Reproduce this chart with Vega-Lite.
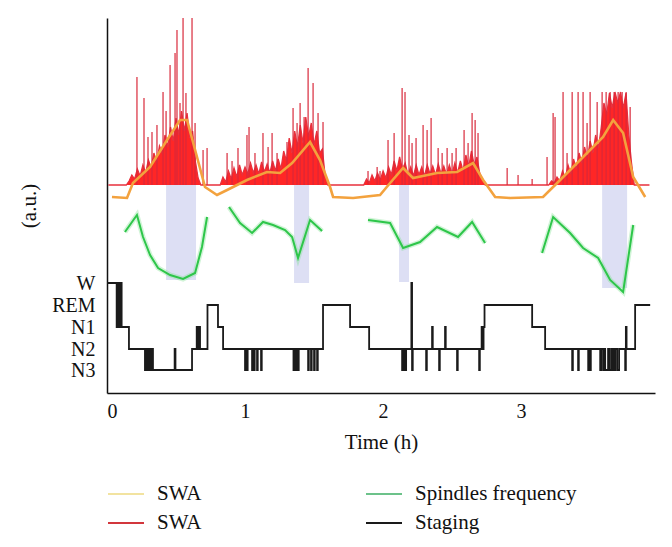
{
  "$schema": "https://vega.github.io/schema/vega-lite/v6.json",
  "description": "SWA, spindle frequency and sleep staging over time",
  "width": 548,
  "height": 375,
  "autosize": {"type": "none"},
  "padding": {"left": 107, "top": 18, "right": 17, "bottom": 154},
  "config": {
    "font": "'Liberation Serif', 'DejaVu Serif', serif",
    "view": {"stroke": null},
    "axis": {
      "labelFont": "'Liberation Serif', 'DejaVu Serif', serif", "titleFont": "'Liberation Serif', 'DejaVu Serif', serif",
      "labelFontSize": 20, "titleFontSize": 21, "titleFontWeight": "normal",
      "labelColor": "#111", "titleColor": "#111", "domainColor": "#111",
      "domainWidth": 1.5, "grid": false, "ticks": false
    },
    "legend": {
      "labelFont": "'Liberation Serif', 'DejaVu Serif', serif", "labelFontSize": 21, "labelColor": "#111"
    }
  },
  "datasets": {
    "bands": [
      {"t": 0.428, "t2": 0.645, "v": 113, "v2": 208},
      {"t": 1.355, "t2": 1.464, "v": 110, "v2": 208},
      {"t": 2.116, "t2": 2.188, "v": 111, "v2": 208},
      {"t": 3.587, "t2": 3.768, "v": 105, "v2": 208}
    ],
    "red": [
      {"t": 0.01, "v": 208}, {"t": 0.14, "v": 208}, {"t": 0.16, "v": 212}, {"t": 0.18, "v": 218}, {"t": 0.20, "v": 214},
      {"t": 0.22, "v": 224}, {"t": 0.24, "v": 217}, {"t": 0.26, "v": 228}, {"t": 0.28, "v": 220}, {"t": 0.30, "v": 233},
      {"t": 0.32, "v": 225}, {"t": 0.34, "v": 240}, {"t": 0.36, "v": 230}, {"t": 0.38, "v": 247}, {"t": 0.40, "v": 240},
      {"t": 0.42, "v": 258}, {"t": 0.44, "v": 246}, {"t": 0.46, "v": 266}, {"t": 0.48, "v": 252}, {"t": 0.50, "v": 275},
      {"t": 0.52, "v": 258}, {"t": 0.54, "v": 282}, {"t": 0.56, "v": 262}, {"t": 0.58, "v": 280}, {"t": 0.60, "v": 255},
      {"t": 0.62, "v": 262}, {"t": 0.64, "v": 232}, {"t": 0.66, "v": 215}, {"t": 0.68, "v": 208},
      {"t": 0.82, "v": 208}, {"t": 0.84, "v": 216}, {"t": 0.86, "v": 211}, {"t": 0.88, "v": 222}, {"t": 0.90, "v": 214},
      {"t": 0.92, "v": 225}, {"t": 0.94, "v": 216}, {"t": 0.96, "v": 228}, {"t": 0.98, "v": 218}, {"t": 1.00, "v": 226},
      {"t": 1.02, "v": 219}, {"t": 1.04, "v": 230}, {"t": 1.06, "v": 220}, {"t": 1.08, "v": 228}, {"t": 1.10, "v": 219},
      {"t": 1.12, "v": 231}, {"t": 1.14, "v": 221}, {"t": 1.16, "v": 229}, {"t": 1.18, "v": 220}, {"t": 1.20, "v": 232},
      {"t": 1.22, "v": 222}, {"t": 1.24, "v": 234}, {"t": 1.26, "v": 224}, {"t": 1.28, "v": 242}, {"t": 1.30, "v": 232},
      {"t": 1.32, "v": 255}, {"t": 1.34, "v": 240}, {"t": 1.36, "v": 262}, {"t": 1.38, "v": 246}, {"t": 1.40, "v": 268},
      {"t": 1.42, "v": 250}, {"t": 1.44, "v": 276}, {"t": 1.46, "v": 256}, {"t": 1.48, "v": 270}, {"t": 1.50, "v": 248},
      {"t": 1.52, "v": 262}, {"t": 1.54, "v": 240}, {"t": 1.56, "v": 244}, {"t": 1.58, "v": 218}, {"t": 1.60, "v": 208},
      {"t": 1.86, "v": 208}, {"t": 1.88, "v": 214}, {"t": 1.90, "v": 210}, {"t": 1.92, "v": 218}, {"t": 1.94, "v": 212},
      {"t": 1.96, "v": 220}, {"t": 1.98, "v": 213}, {"t": 2.00, "v": 222}, {"t": 2.02, "v": 215}, {"t": 2.04, "v": 226},
      {"t": 2.06, "v": 218}, {"t": 2.08, "v": 232}, {"t": 2.10, "v": 222}, {"t": 2.12, "v": 236}, {"t": 2.14, "v": 224},
      {"t": 2.16, "v": 230}, {"t": 2.18, "v": 218}, {"t": 2.20, "v": 226}, {"t": 2.22, "v": 217}, {"t": 2.24, "v": 228},
      {"t": 2.26, "v": 218}, {"t": 2.28, "v": 226}, {"t": 2.30, "v": 217}, {"t": 2.32, "v": 228}, {"t": 2.34, "v": 219},
      {"t": 2.36, "v": 227}, {"t": 2.38, "v": 218}, {"t": 2.40, "v": 229}, {"t": 2.42, "v": 219}, {"t": 2.44, "v": 227},
      {"t": 2.46, "v": 218}, {"t": 2.48, "v": 228}, {"t": 2.50, "v": 219}, {"t": 2.52, "v": 230}, {"t": 2.54, "v": 220},
      {"t": 2.56, "v": 232}, {"t": 2.58, "v": 222}, {"t": 2.60, "v": 238}, {"t": 2.62, "v": 226}, {"t": 2.64, "v": 242},
      {"t": 2.66, "v": 228}, {"t": 2.68, "v": 236}, {"t": 2.70, "v": 220}, {"t": 2.72, "v": 214}, {"t": 2.74, "v": 208},
      {"t": 3.20, "v": 208}, {"t": 3.22, "v": 212}, {"t": 3.24, "v": 210}, {"t": 3.26, "v": 216}, {"t": 3.28, "v": 212},
      {"t": 3.30, "v": 222}, {"t": 3.32, "v": 215}, {"t": 3.34, "v": 228}, {"t": 3.36, "v": 219}, {"t": 3.38, "v": 234},
      {"t": 3.40, "v": 224}, {"t": 3.42, "v": 240}, {"t": 3.44, "v": 230}, {"t": 3.46, "v": 246}, {"t": 3.48, "v": 234},
      {"t": 3.50, "v": 252}, {"t": 3.52, "v": 240}, {"t": 3.54, "v": 258}, {"t": 3.56, "v": 245}, {"t": 3.58, "v": 265},
      {"t": 3.60, "v": 290}, {"t": 3.62, "v": 278}, {"t": 3.64, "v": 300}, {"t": 3.66, "v": 285}, {"t": 3.68, "v": 301},
      {"t": 3.70, "v": 290}, {"t": 3.72, "v": 301}, {"t": 3.74, "v": 285}, {"t": 3.76, "v": 300}, {"t": 3.78, "v": 258},
      {"t": 3.80, "v": 230}, {"t": 3.82, "v": 208}, {"t": 3.93, "v": 208}
    ],
    "spikes": [
      {"t": 0.217, "v": 316}, {"t": 0.268, "v": 295}, {"t": 0.297, "v": 256}, {"t": 0.326, "v": 261}, {"t": 0.362, "v": 268},
      {"t": 0.406, "v": 301}, {"t": 0.428, "v": 282}, {"t": 0.457, "v": 328}, {"t": 0.493, "v": 340}, {"t": 0.507, "v": 363},
      {"t": 0.529, "v": 290}, {"t": 0.551, "v": 375}, {"t": 0.572, "v": 300}, {"t": 0.616, "v": 375}, {"t": 0.638, "v": 270},
      {"t": 0.696, "v": 243}, {"t": 0.725, "v": 245},
      {"t": 0.870, "v": 240}, {"t": 0.906, "v": 232}, {"t": 0.949, "v": 245}, {"t": 1.014, "v": 258}, {"t": 1.029, "v": 266},
      {"t": 1.072, "v": 240}, {"t": 1.130, "v": 260}, {"t": 1.167, "v": 246}, {"t": 1.196, "v": 260}, {"t": 1.232, "v": 240},
      {"t": 1.304, "v": 251}, {"t": 1.348, "v": 285}, {"t": 1.377, "v": 270}, {"t": 1.399, "v": 290}, {"t": 1.428, "v": 276},
      {"t": 1.457, "v": 325}, {"t": 1.493, "v": 310}, {"t": 1.529, "v": 280}, {"t": 1.565, "v": 271},
      {"t": 1.891, "v": 222}, {"t": 1.957, "v": 226}, {"t": 1.978, "v": 222}, {"t": 2.036, "v": 253}, {"t": 2.080, "v": 260},
      {"t": 2.138, "v": 305}, {"t": 2.159, "v": 301}, {"t": 2.188, "v": 258}, {"t": 2.210, "v": 250}, {"t": 2.239, "v": 255},
      {"t": 2.290, "v": 268}, {"t": 2.319, "v": 263}, {"t": 2.348, "v": 275}, {"t": 2.399, "v": 245}, {"t": 2.428, "v": 240},
      {"t": 2.464, "v": 245}, {"t": 2.500, "v": 240}, {"t": 2.529, "v": 245}, {"t": 2.587, "v": 263}, {"t": 2.616, "v": 250},
      {"t": 2.645, "v": 280}, {"t": 2.667, "v": 273}, {"t": 2.688, "v": 260},
      {"t": 2.899, "v": 225}, {"t": 2.978, "v": 218}, {"t": 3.080, "v": 214}, {"t": 3.188, "v": 236},
      {"t": 3.232, "v": 280}, {"t": 3.246, "v": 276}, {"t": 3.304, "v": 301}, {"t": 3.333, "v": 240}, {"t": 3.370, "v": 301},
      {"t": 3.413, "v": 301}, {"t": 3.449, "v": 301}, {"t": 3.478, "v": 270}, {"t": 3.500, "v": 301}, {"t": 3.551, "v": 291},
      {"t": 3.587, "v": 301}, {"t": 3.616, "v": 301}, {"t": 3.645, "v": 301}, {"t": 3.674, "v": 301}, {"t": 3.703, "v": 301},
      {"t": 3.732, "v": 301}, {"t": 3.761, "v": 301}, {"t": 3.790, "v": 286}
    ],
    "orange": [
      {"t": 0.036, "v": 196}, {"t": 0.145, "v": 195}, {"t": 0.188, "v": 210}, {"t": 0.312, "v": 226}, {"t": 0.435, "v": 253},
      {"t": 0.529, "v": 273}, {"t": 0.580, "v": 273}, {"t": 0.652, "v": 236}, {"t": 0.710, "v": 206}, {"t": 0.797, "v": 198},
      {"t": 0.870, "v": 203}, {"t": 1.014, "v": 213}, {"t": 1.159, "v": 221}, {"t": 1.254, "v": 220}, {"t": 1.341, "v": 230},
      {"t": 1.471, "v": 251}, {"t": 1.543, "v": 233}, {"t": 1.616, "v": 206}, {"t": 1.638, "v": 196}, {"t": 1.783, "v": 195},
      {"t": 1.978, "v": 198}, {"t": 2.051, "v": 210}, {"t": 2.145, "v": 225}, {"t": 2.217, "v": 215}, {"t": 2.391, "v": 220},
      {"t": 2.536, "v": 221}, {"t": 2.652, "v": 230}, {"t": 2.725, "v": 213}, {"t": 2.812, "v": 196}, {"t": 2.920, "v": 195},
      {"t": 3.159, "v": 196}, {"t": 3.261, "v": 210}, {"t": 3.449, "v": 236}, {"t": 3.594, "v": 256}, {"t": 3.667, "v": 273},
      {"t": 3.739, "v": 260}, {"t": 3.812, "v": 216}, {"t": 3.899, "v": 196}
    ],
    "green": [
      {"seg": 1, "t": 0.130, "v": 161}, {"seg": 1, "t": 0.217, "v": 178}, {"seg": 1, "t": 0.261, "v": 156}, {"seg": 1, "t": 0.312, "v": 138},
      {"seg": 1, "t": 0.370, "v": 125}, {"seg": 1, "t": 0.457, "v": 118}, {"seg": 1, "t": 0.551, "v": 114}, {"seg": 1, "t": 0.638, "v": 120},
      {"seg": 1, "t": 0.688, "v": 146}, {"seg": 1, "t": 0.725, "v": 176},
      {"seg": 2, "t": 0.884, "v": 186}, {"seg": 2, "t": 0.964, "v": 170}, {"seg": 2, "t": 1.051, "v": 160}, {"seg": 2, "t": 1.130, "v": 171},
      {"seg": 2, "t": 1.203, "v": 168}, {"seg": 2, "t": 1.290, "v": 163}, {"seg": 2, "t": 1.341, "v": 156}, {"seg": 2, "t": 1.384, "v": 135},
      {"seg": 2, "t": 1.471, "v": 173}, {"seg": 2, "t": 1.558, "v": 162},
      {"seg": 3, "t": 1.891, "v": 173}, {"seg": 3, "t": 2.051, "v": 170}, {"seg": 3, "t": 2.145, "v": 145}, {"seg": 3, "t": 2.268, "v": 151},
      {"seg": 3, "t": 2.391, "v": 166}, {"seg": 3, "t": 2.543, "v": 156}, {"seg": 3, "t": 2.645, "v": 171}, {"seg": 3, "t": 2.739, "v": 150},
      {"seg": 4, "t": 3.152, "v": 140}, {"seg": 4, "t": 3.232, "v": 176}, {"seg": 4, "t": 3.355, "v": 160}, {"seg": 4, "t": 3.449, "v": 145},
      {"seg": 4, "t": 3.558, "v": 135}, {"seg": 4, "t": 3.645, "v": 113}, {"seg": 4, "t": 3.739, "v": 101}, {"seg": 4, "t": 3.812, "v": 168}
    ],
    "stage": [
      {"t": 0.000, "v": 110}, {"t": 0.070, "v": 66}, {"t": 0.076, "v": 110}, {"t": 0.082, "v": 66}, {"t": 0.088, "v": 110},
      {"t": 0.094, "v": 66}, {"t": 0.100, "v": 110}, {"t": 0.106, "v": 66}, {"t": 0.159, "v": 44}, {"t": 0.275, "v": 23},
      {"t": 0.281, "v": 44}, {"t": 0.288, "v": 23}, {"t": 0.294, "v": 44}, {"t": 0.301, "v": 23}, {"t": 0.307, "v": 44},
      {"t": 0.316, "v": 23}, {"t": 0.322, "v": 44}, {"t": 0.333, "v": 23}, {"t": 0.490, "v": 44}, {"t": 0.496, "v": 23},
      {"t": 0.616, "v": 44}, {"t": 0.650, "v": 66}, {"t": 0.656, "v": 44}, {"t": 0.668, "v": 66}, {"t": 0.674, "v": 44},
      {"t": 0.728, "v": 88}, {"t": 0.804, "v": 66}, {"t": 0.841, "v": 44},
      {"t": 1.000, "v": 23}, {"t": 1.005, "v": 44}, {"t": 1.014, "v": 23}, {"t": 1.019, "v": 44}, {"t": 1.051, "v": 23},
      {"t": 1.056, "v": 44}, {"t": 1.065, "v": 23}, {"t": 1.070, "v": 44}, {"t": 1.087, "v": 23}, {"t": 1.092, "v": 44},
      {"t": 1.116, "v": 23}, {"t": 1.121, "v": 44}, {"t": 1.351, "v": 23}, {"t": 1.358, "v": 44}, {"t": 1.362, "v": 23},
      {"t": 1.367, "v": 44}, {"t": 1.373, "v": 23}, {"t": 1.378, "v": 44}, {"t": 1.384, "v": 23}, {"t": 1.389, "v": 44},
      {"t": 1.457, "v": 23}, {"t": 1.462, "v": 44}, {"t": 1.478, "v": 23}, {"t": 1.483, "v": 44}, {"t": 1.500, "v": 23},
      {"t": 1.505, "v": 44}, {"t": 1.522, "v": 23}, {"t": 1.527, "v": 44}, {"t": 1.565, "v": 88}, {"t": 1.761, "v": 66},
      {"t": 1.899, "v": 44}, {"t": 2.138, "v": 23}, {"t": 2.143, "v": 44}, {"t": 2.150, "v": 23}, {"t": 2.155, "v": 44},
      {"t": 2.162, "v": 23}, {"t": 2.167, "v": 44}, {"t": 2.205, "v": 110}, {"t": 2.210, "v": 23}, {"t": 2.215, "v": 44},
      {"t": 2.312, "v": 23}, {"t": 2.317, "v": 44}, {"t": 2.355, "v": 66}, {"t": 2.360, "v": 44}, {"t": 2.406, "v": 23},
      {"t": 2.411, "v": 44}, {"t": 2.449, "v": 66}, {"t": 2.454, "v": 44}, {"t": 2.536, "v": 23}, {"t": 2.541, "v": 44},
      {"t": 2.696, "v": 23}, {"t": 2.701, "v": 44}, {"t": 2.714, "v": 66}, {"t": 2.722, "v": 44}, {"t": 2.728, "v": 66},
      {"t": 2.735, "v": 88}, {"t": 3.080, "v": 66}, {"t": 3.174, "v": 44}, {"t": 3.370, "v": 23}, {"t": 3.375, "v": 44},
      {"t": 3.413, "v": 23}, {"t": 3.418, "v": 44}, {"t": 3.486, "v": 23}, {"t": 3.491, "v": 44}, {"t": 3.500, "v": 23},
      {"t": 3.505, "v": 44}, {"t": 3.573, "v": 23}, {"t": 3.580, "v": 44}, {"t": 3.594, "v": 23}, {"t": 3.600, "v": 44},
      {"t": 3.609, "v": 23}, {"t": 3.630, "v": 44}, {"t": 3.638, "v": 23}, {"t": 3.652, "v": 44}, {"t": 3.660, "v": 23},
      {"t": 3.667, "v": 44}, {"t": 3.674, "v": 23}, {"t": 3.682, "v": 44}, {"t": 3.696, "v": 23}, {"t": 3.710, "v": 44},
      {"t": 3.754, "v": 23}, {"t": 3.759, "v": 66}, {"t": 3.764, "v": 44}, {"t": 3.826, "v": 88}, {"t": 3.935, "v": 88}
    ]
  },
  "encoding": {
    "x": {
      "field": "t", "type": "quantitative", "title": "Time (h)",
      "scale": {"domain": [0, 3.97], "nice": false, "zero": false},
      "axis": {"values": [0, 1, 2, 3], "format": "d", "labelPadding": 8, "titlePadding": 10}
    },
    "y": {
      "field": "v", "type": "quantitative", "title": "(a.u.)",
      "scale": {"domain": [0, 375], "nice": false, "zero": false},
      "axis": {
        "values": [23, 44, 66, 88, 110],
        "labelExpr": "datum.value == 110 ? 'W' : datum.value == 88 ? 'REM' : datum.value == 66 ? 'N1' : datum.value == 44 ? 'N2' : 'N3'",
        "labelOverlap": false, "labelPadding": 12, "titlePadding": 12
      }
    }
  },
  "layer": [
    {
      "data": {"name": "bands"},
      "mark": {"type": "rect", "color": "#dddff4"},
      "encoding": {"x2": {"field": "t2"}, "y2": {"field": "v2"}}
    },
    {
      "data": {"name": "red"},
      "mark": {"type": "area", "color": "#ff1a1a", "opacity": 0.95},
      "encoding": {"y2": {"datum": 208}}
    },
    {
      "data": {"name": "red"},
      "mark": {"type": "line", "color": "#e8303c", "strokeWidth": 1.3},
      "encoding": {}
    },
    {
      "data": {"name": "spikes"},
      "mark": {"type": "rule", "color": "#d8283a", "strokeWidth": 1.4, "opacity": 0.85},
      "encoding": {"y2": {"datum": 208}}
    },
    {
      "data": {"name": "orange"},
      "mark": {"type": "line", "color": "#f3a23e", "strokeWidth": 2.6},
      "encoding": {}
    },
    {
      "data": {"name": "green"},
      "mark": {"type": "line", "color": "#7be08c", "strokeWidth": 5, "opacity": 0.35},
      "encoding": {"detail": {"field": "seg"}}
    },
    {
      "data": {"name": "green"},
      "mark": {"type": "line", "color": "#2ec64a", "strokeWidth": 2},
      "encoding": {"detail": {"field": "seg"}}
    },
    {
      "data": {"name": "stage"},
      "mark": {"type": "line", "interpolate": "step-after", "strokeWidth": 1.8},
      "encoding": {
        "color": {
          "datum": "Staging",
          "scale": {
            "domain": ["SWA", "SWA ", "Spindles frequency", "Staging"],
            "range": ["#f2e3a0", "#d2363c", "#6cc28a", "#1a1a1a"]
          },
          "legend": {
            "orient": "none", "legendX": 0, "legendY": 457, "columns": 2,
            "columnPadding": 160, "rowPadding": -13, "padding": 0,
            "symbolType": "stroke", "symbolSize": 1296, "symbolStrokeWidth": 2,
            "labelOffset": 12, "labelLimit": 300, "title": null
          }
        }
      }
    }
  ]
}
